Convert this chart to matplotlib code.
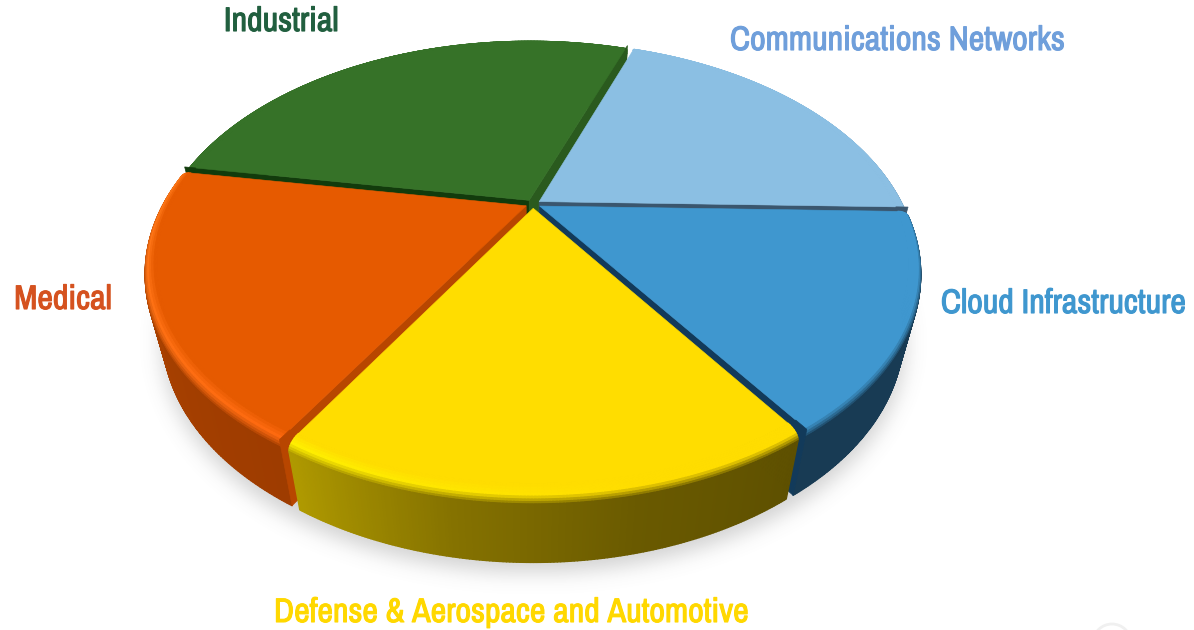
import matplotlib
matplotlib.use('Agg')
import matplotlib.pyplot as plt
import matplotlib.patheffects as pe
import numpy as np
from matplotlib.collections import PolyCollection
from matplotlib.colors import to_rgb
from matplotlib.patches import Circle, Polygon

# clockwise from the first slice boundary, share of market in percent
categories = ['Communications Networks', 'Cloud Infrastructure',
              'Defense & Aerospace and Automotive', 'Medical', 'Industrial']
shares = [20, 15.15, 17.95, 19.2, 27.7]
start_angle = 19.5

top_colors = ['#8BBFE3', '#3F97CF', '#FFDD00', '#E65A00', '#367228']
rim_colors = [['#8BBFE3'], ['#3F97CF'], ['#FFF000', '#FFE600', '#FFDD00', '#FFDD00'],
              ['#FF7A1A', '#FF6A10'], ['#367228']]
wall_colors = [['#6F8FA8'], ['#183B54'], ['#B09A00', '#857200', '#6A5A00', '#5E5000'],
               ['#B04400', '#9E3C00'], ['#2A5A1E']]
# cut faces that look towards the viewer: (clockwise start edge, clockwise end edge)
cut_colors = [(None, '#3A566E'), (None, '#123A5A'), (None, None),
              ('#B84600', None), ('#123B0C', '#2A5A1E')]
label_colors = ['#6F9FDB', '#3F97CF', '#FFD800', '#D5521F', '#215F3F']
label_pos = [(897, 41), (1063, 304), (511, 613), (63, 300), (281, 22)]
draw_order = [4, 0, 1, 3, 2]

CX, CY = 533, 204
A, B, K = 375, 212, 0.275
DEPTH, SHRINK = 66, 0.05
R = 0.98
EXPLODE = 0.02


def project(u, v, z=0.0):
    w = 1 + K * v
    x = CX + A * u * (1 - SHRINK * z) / w
    y = CY - B * v / w + DEPTH * z
    return np.column_stack((x, y))


def stops(cols, t):
    rgb = np.array([to_rgb(c) for c in cols])
    if len(cols) == 1:
        return np.repeat(rgb, len(t), axis=0)
    pos = np.linspace(0, 1, len(cols))
    return np.column_stack([np.interp(t, pos, rgb[:, i]) for i in range(3)])


def draw_slice(ax, t0, t1, top, rim, wall, cuts):
    mid = np.radians((t0 + t1) / 2)
    ou, ov = EXPLODE * np.sin(mid), EXPLODE * np.cos(mid)
    th = np.radians(np.linspace(t0, t1, 161))
    # colour stops run from the left end of the arc to the right
    frac = 1 - np.linspace(0, 1, 161)

    def ring(rho, z):
        return project(ou + R * rho * np.sin(th), ov + R * rho * np.cos(th), z)

    apex_top = project(np.array([ou]), np.array([ov]))[0]
    apex_low = project(np.array([ou]), np.array([ov]), 1.0)[0]

    # outer wall and the rounded rim, bottom stage first
    rim_t = np.linspace(0, 1, 9)
    rhos = list(0.966 + 0.034 * np.sin(rim_t * np.pi / 2)) + [1.0]
    zeds = list(0.12 * (1 - np.cos(rim_t * np.pi / 2))) + [1.0]
    top_rgb = np.array(to_rgb(top))
    rim_rgb = stops(rim, frac[:-1])
    wall_rgb = stops(wall, frac[:-1])
    for s in range(len(rhos) - 2, -1, -1):
        a, b = ring(rhos[s], zeds[s]), ring(rhos[s + 1], zeds[s + 1])
        quads = [[a[i], a[i + 1], b[i + 1], b[i]] for i in range(len(a) - 1)]
        if s == len(rhos) - 2:
            cols = wall_rgb
        else:
            m = s / (len(rhos) - 3)
            if m < 0.45:
                cols = top_rgb + (rim_rgb - top_rgb) * (m / 0.45)
            else:
                cols = rim_rgb + (wall_rgb - rim_rgb) * ((m - 0.45) / 0.55)
        ax.add_collection(PolyCollection(quads, facecolors=cols, edgecolors=cols,
                                         linewidths=1.0, zorder=2))

    # cut faces go over the wall ends
    for idx, col in ((0, cuts[0]), (-1, cuts[1])):
        if col is None:
            continue
        outer_top = ring(1.0, 0.0)[idx]
        outer_low = ring(1.0, 1.0)[idx]
        ax.add_patch(Polygon([apex_top, outer_top, outer_low, apex_low],
                             closed=True, fc=col, ec=col, lw=0.5, zorder=2))

    # flat top
    pts = np.vstack(([apex_top], ring(rhos[0], 0.0)))
    ax.add_patch(Polygon(pts, closed=True, fc=top, ec=top, lw=0.4, zorder=2))


def soft_shadow(ax):
    yy, xx = np.mgrid[0:630, 0:1194]
    mask = (((xx - 533) / 372.0) ** 2 + ((yy - 342) / 230.0) ** 2 < 1).astype(float)
    g = np.arange(-30, 31)
    kern = np.exp(-g ** 2 / (2 * 10.0 ** 2))
    kern /= kern.sum()
    mask = np.apply_along_axis(lambda r: np.convolve(r, kern, mode='same'), 0, mask)
    mask = np.apply_along_axis(lambda r: np.convolve(r, kern, mode='same'), 1, mask)
    rgba = np.zeros((630, 1194, 4))
    rgba[..., :3] = 0.45
    rgba[..., 3] = mask * 0.32
    ax.imshow(rgba, extent=(0, 1194, 630, 0), zorder=1, interpolation='bilinear')


fig = plt.figure(figsize=(11.94, 6.3), dpi=100)
ax = fig.add_axes([0, 0, 1, 1])
soft_shadow(ax)
ax.set_xlim(0, 1194)
ax.set_ylim(630, 0)
ax.axis('off')

edges = start_angle + np.concatenate(([0], np.cumsum(shares))) * 360.0 / sum(shares)
for i in draw_order:
    draw_slice(ax, edges[i], edges[i + 1], top_colors[i], rim_colors[i], wall_colors[i], cut_colors[i])

for name, col, pos in zip(categories, label_colors, label_pos):
    ax.text(pos[0], pos[1], name, color=col, ha='center', va='center', fontsize=24.5,
            family=['Archivo Narrow', 'Roboto Condensed', 'Liberation Sans'], zorder=5,
            path_effects=[pe.withStroke(linewidth=0.8, foreground=col)])

# faint ring cut off by the lower edge
ax.add_patch(Circle((1112, 643), 19, fc='none', ec='#F0F0F0', lw=2, zorder=1))

fig.savefig('out.png', dpi=100)
